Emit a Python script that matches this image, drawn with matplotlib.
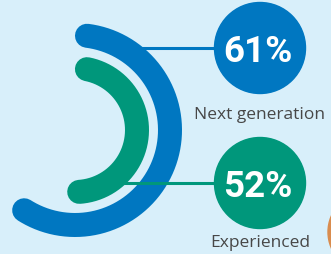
import numpy as np
import matplotlib
matplotlib.use("Agg")
import matplotlib.pyplot as plt
from matplotlib.patches import Circle

# share of respondents, per group
groups = ["Next generation", "Experienced"]
values = [61, 52]
value_labels = ["61%", "52%"]
colors = ["#0077c1", "#00977b"]

BG = "#d8effa"
TEXT = "#474747"
W, H = 331, 254

fig = plt.figure(figsize=(W / 100, H / 100), dpi=100, facecolor=BG)
ax = fig.add_axes([0, 0, 1, 1])
ax.set_xlim(0, W)
ax.set_ylim(H, 0)
ax.axis("off")
ax.set_facecolor(BG)

cx, cy = 75, 130
radii = [95, 62]
arc_px = 24
lw = arc_px * 72 / 100
bubble_x = 260
bubble_y = [48, 183]
bubble_r = 45.5

for i, (val, lab, vlab, col) in enumerate(zip(values, groups, value_labels, colors)):
    R = radii[i]
    cap = np.degrees((arc_px / 2) / R)
    t = np.radians(np.linspace(90 - cap, 90 - val / 100 * 360 + cap, 300))
    ax.plot(cx + R * np.cos(t), cy - R * np.sin(t), color=col, lw=lw,
            solid_capstyle="round", zorder=2 + i * 2)

    # connector from the arc to the bubble
    by = bubble_y[i]
    x0 = cx + np.sqrt(max(R ** 2 - (cy - by) ** 2, 0)) + (arc_px / 2 if i == 0 else 0)
    ax.plot([x0 - 4, bubble_x], [by, by], color=col, lw=2.2, zorder=3 + i * 2,
            solid_capstyle="butt")

    ax.add_patch(Circle((bubble_x, by), bubble_r, color=col, zorder=10))
    ax.text(bubble_x - 2, by + 14, vlab, color="white", fontsize=26.5,
            fontweight="bold", family="Roboto", ha="center", va="baseline",
            zorder=11)
    ax.text(bubble_x, by + 71 if i == 0 else by + 64, lab, color=TEXT,
            fontsize=12.5, family="Open Sans", ha="center", va="baseline", zorder=11)

# edge of the next (cropped) element on the right
ax.add_patch(Circle((368, 232), 40, color="#d98c4e", zorder=1))

fig.savefig("out.png", dpi=100, facecolor=BG)
